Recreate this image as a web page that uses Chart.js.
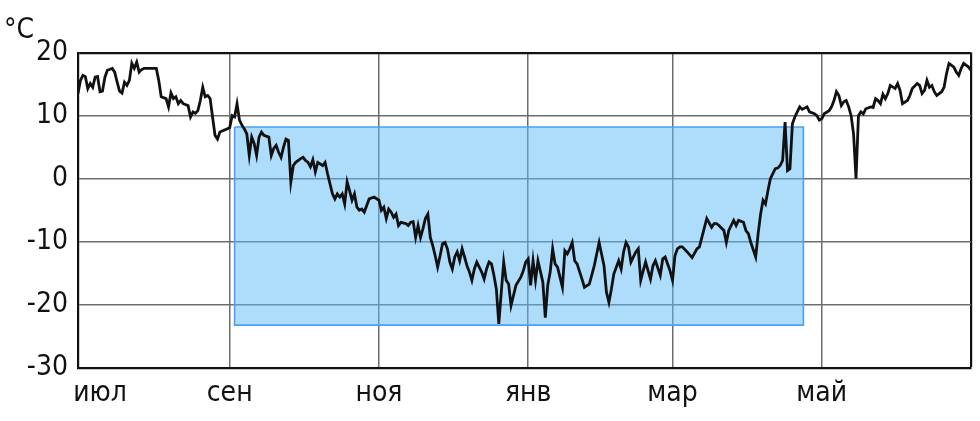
<!DOCTYPE html>
<html>
<head>
<meta charset="utf-8">
<script src="https://cdn.jsdelivr.net/npm/chart.js@4"></script>
<style>
  html, body { margin: 0; padding: 0; background: #fff; }
  #wrap { width: 980px; height: 421px; }
</style>
</head>
<body>
<div id="wrap"><canvas id="c" width="980" height="421"></canvas></div>
<script>
// Days counted from 1 July; temperature in °C
const days = [0,1,2,3,4,5,6,7,8,9,10,11,12,14,15,16,17,18,19,20,21,22,23,24,25,26,27,30,32,33,34,36,37,38,39,40,41,42,43,45,46,47,48,49,50,51,52,53,54,55,56,57,58,62,
63,64,65,66,67,68,69,70,71,72,73,74,75,76,78,79,80,81,82,83,84,85,86,87,88,89,91,92,93,94,95,96,97,98,100,101,102,103,104,105,106,107,108,109,110,111,112,113,114,115,116,117,119,121,123,
124,125,126,127,128,129,130,131,132,134,135,136,137,138,139,140,141,142,143,144,145,146,147,148,149,150,151,152,153,154,155,156,157,158,159,160,161,162,163,164,165,166,167,168,169,170,171,172,173,174,175,176,177,178,179,181,182,183,184,185,
186,187,188,190,191,192,193,194,195,196,197,198,199,200,201,202,203,204,206,207,209,211,213,215,216,217,218,219,221,222,223,224,225,226,228,229,230,231,232,234,235,236,238,239,240,241,242,243,244,
245,246,247,249,251,253,254,255,257,259,260,261,262,264,265,266,268,269,270,272,273,274,275,277,278,279,280,281,282,283,284,285,286,287,288,289,290,291,292,293,294,295,296,298,299,301,302,303,304,305,
307,308,309,310,311,312,313,314,315,316,317,318,319,320,321,322,324,325,326,327,328,329,330,331,332,334,335,336,337,339,340,341,343,344,345,346,347,348,349,350,351,353,354,355,356,358,359,360,361,362,364,365];
const temps = [13.5,15.6,16.4,16.2,14.3,15.1,14.5,16.1,16.2,13.8,13.9,16.1,17.2,17.5,16.9,15.3,13.9,13.6,15.3,14.8,15.6,18.3,17.5,18.5,16.9,17.3,17.5,17.5,17.5,15.6,13.0,12.7,11.4,13.6,12.7,13.0,11.9,12.4,11.9,11.6,9.8,10.6,10.4,10.8,12.4,14.5,13.0,13.2,12.7,9.8,6.9,6.3,7.4,8.1,
10.0,9.8,11.9,9.3,8.5,7.9,7.1,3.7,6.6,5.6,3.7,6.6,7.4,6.9,6.6,3.7,4.8,5.3,4.2,3.4,5.0,6.3,6.1,-0.5,2.1,2.6,3.2,3.4,2.9,2.6,1.9,3.0,1.1,2.6,2.1,2.6,0.8,-0.8,-2.4,-3.2,-2.4,-2.9,-2.4,-4.0,-0.5,-1.9,-3.4,-2.4,-4.5,-5.0,-4.8,-5.3,-3.2,-2.9,-3.4,
-5.0,-4.5,-6.3,-4.8,-5.3,-6.1,-5.6,-7.4,-6.9,-7.1,-7.4,-6.9,-6.8,-9.3,-7.4,-9.3,-7.9,-6.3,-5.6,-9.3,-10.6,-12.2,-14.0,-12.2,-10.3,-10.1,-11.1,-13.2,-14.3,-12.4,-11.6,-13.0,-11.1,-12.4,-13.8,-14.8,-16.1,-14.3,-13.2,-14.0,-14.8,-15.9,-14.3,-13.2,-13.5,-15.3,-17.5,-23.0,-18.0,-13.2,-16.1,-16.7,-20.1,-18.5,-16.9,-15.6,-14.6,-13.2,-12.7,-16.9,
-13.0,-16.1,-13.0,-16.4,-22.0,-16.9,-14.8,-11.1,-13.5,-14.0,-15.6,-17.2,-11.4,-11.9,-11.1,-10.1,-13.0,-13.5,-15.9,-17.2,-16.7,-13.8,-10.1,-13.8,-18.0,-19.6,-17.5,-15.1,-13.0,-14.3,-11.6,-10.1,-10.8,-13.2,-11.6,-11.1,-16.1,-14.6,-13.2,-15.9,-13.8,-13.0,-15.3,-12.7,-12.4,-13.5,-14.6,-16.1,-12.2,
-11.1,-10.8,-10.8,-11.6,-12.5,-11.1,-10.8,-9.3,-6.3,-7.7,-7.1,-7.1,-7.4,-8.2,-10.1,-8.2,-6.6,-7.4,-6.6,-6.9,-8.2,-8.7,-10.1,-12.4,-8.7,-5.6,-3.4,-4.0,-1.9,0,0.8,1.6,1.7,2.1,2.9,9.0,1.3,1.6,8.7,9.8,10.6,11.4,11.0,11.4,10.6,10.3,10.0,9.3,9.5,10.3,
10.8,11.4,12.4,13.8,13.2,11.6,12.2,12.4,11.4,10.0,7.1,0,10.0,10.6,10.3,11.1,11.4,11.3,12.7,12.4,11.9,13.4,12.7,13.5,14.8,14.3,15.1,14.0,11.9,12.4,13.2,14.3,15.1,14.8,13.5,14.0,15.6,14.5,14.8,13.8,13.2,13.8,14.5,16.7,18.3,17.7,16.9,16.4,17.5,18.3,17.7,17.2];

// Highlighted period (light-blue box)
const boxDays = [64, 296.5];
const boxTemps = [8.2, -23.2];

// Axis ticks (the July label sits a little right of the axis start, as in the original)
const tickDays = [9, 62, 123, 184, 243, 304, 365];
const tickLabels = ['июл', 'сен', 'ноя', 'янв', 'мар', 'май', ''];
const yTicks = [-30, -20, -10, 0, 10, 20];
const unitLabel = '°C';

const lineData = days.map((d, i) => ({ x: d, y: temps[i] }));
const boxData = [
  { x: boxDays[0], y: boxTemps[0] },
  { x: boxDays[1], y: boxTemps[0] },
  { x: boxDays[1], y: boxTemps[1] },
  { x: boxDays[0], y: boxTemps[1] },
  { x: boxDays[0], y: boxTemps[0] }
];

const FONT = "'Liberation Sans Narrow', 'DejaVu Sans Condensed', 'Noto Sans', sans-serif";
const GRID = '#6e6e6e';

new Chart(document.getElementById('c'), {
  type: 'line',
  data: {
    datasets: [
      {
        data: lineData,
        borderColor: '#111111',
        borderWidth: 2.8,
        pointRadius: 0,
        tension: 0,
        fill: false,
        order: 0
      },
      {
        data: boxData,
        borderColor: '#4aa3ee',
        borderWidth: 1.6,
        backgroundColor: 'rgba(94,185,248,0.5)',
        pointRadius: 0,
        tension: 0,
        fill: 'shape',
        order: 1
      }
    ]
  },
  options: {
    responsive: false,
    animation: false,
    devicePixelRatio: 1,
    layout: { padding: { left: 4, right: 8, top: 0, bottom: 0 } },
    plugins: {
      legend: { display: false },
      tooltip: { enabled: false },
      title: {
        display: true,
        text: unitLabel,
        align: 'start',
        color: '#111',
        font: { family: FONT, size: 28, weight: 'normal' },
        padding: { top: 14, bottom: 5 }
      }
    },
    scales: {
      x: {
        type: 'linear',
        min: 0,
        max: 365,
        afterBuildTicks: (scale) => { scale.ticks = tickDays.map(v => ({ value: v })); },
        afterFit: (scale) => { scale.height = 53; },
        ticks: {
          autoSkip: false,
          maxRotation: 0,
          padding: 9,
          color: '#111',
          font: { family: FONT, size: 28 },
          callback: (v, i) => tickLabels[i]
        },
        grid: {
          drawTicks: false,
          color: (ctx) => {
            if (!ctx.tick) return GRID;
            if (ctx.tick.value === tickDays[0]) return 'rgba(0,0,0,0)';
            if (ctx.tick.value === tickDays[tickDays.length - 1]) return '#111';
            return GRID;
          },
          lineWidth: (ctx) => (ctx.tick && ctx.tick.value === tickDays[tickDays.length - 1]) ? 2.2 : 1.5
        },
        border: { display: true, color: '#111', width: 2.2 }
      },
      y: {
        min: -30,
        max: 20,
        afterBuildTicks: (scale) => { scale.ticks = yTicks.map(v => ({ value: v })); },
        afterFit: (scale) => { scale.width = 74; },
        ticks: {
          padding: 10,
          color: '#111',
          font: { family: FONT, size: 28 }
        },
        grid: {
          drawTicks: false,
          color: (ctx) => (ctx.tick && ctx.tick.value === 20) ? '#111' : GRID,
          lineWidth: (ctx) => (ctx.tick && ctx.tick.value === 20) ? 2.2 : 1.5
        },
        border: { display: true, color: '#111', width: 2.2 }
      }
    }
  }
});
</script>
</body>
</html>
